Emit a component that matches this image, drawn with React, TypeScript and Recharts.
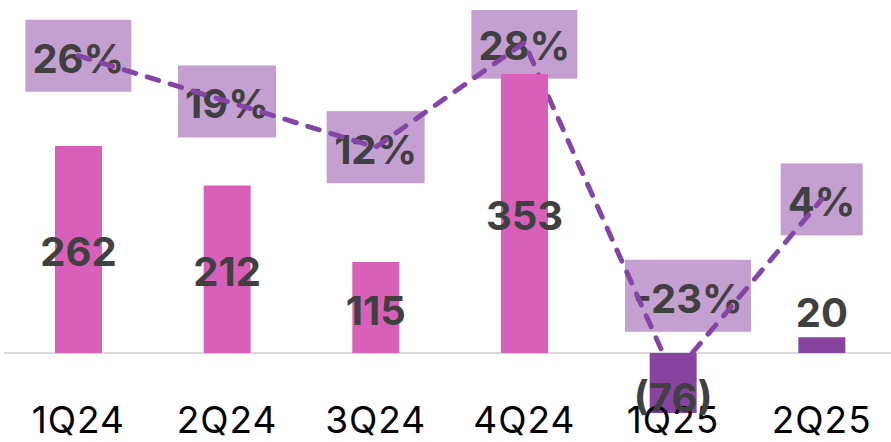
import { Bar, Cell, ComposedChart, LabelList, Line, ReferenceLine, XAxis, YAxis } from "recharts";

const quarters = ["1Q24", "2Q24", "3Q24", "4Q24", "1Q25", "2Q25"];
const netIncome = [262, 212, 115, 353, -76, 20];
const marginPct = [26, 19, 12, 28, -23, 4];

const data = quarters.map((q, i) => ({ name: q, value: netIncome[i], pct: marginPct[i] }));

const PINK = "#D960B9";
const PURPLE = "#8644A0";
const LINE = "#8446A6";
const BOX = "#C3A0D0";
const TEXT = "#404040";
const FONT = "Inter, 'Noto Sans', sans-serif";

// rough glyph widths at 40px bold, used to size the label boxes
const glyphW = (ch: string) => (ch === "%" ? 38 : ch === "1" ? 16 : ch === "-" ? 20 : 24);

function QuarterTick(props: any) {
  const { x, y, payload } = props;
  return (
    <text x={x} y={y} dy={12} textAnchor="middle" fill="#000" fontSize={37} letterSpacing={1} fontFamily={FONT}>
      {payload.value}
    </text>
  );
}

function BarValue(props: any) {
  const { x, y, width, height, value } = props;
  const top = Math.min(y, y + height);
  const h = Math.abs(height);
  const cx = x + width / 2;
  let cy = top + h / 2 + 3;
  let label = String(value);
  if (value < 0) {
    label = `(${-value})`;
    cy = top + h / 2 + 15;
  } else if (h < 40) {
    cy = top - 24;
  }
  return (
    <text x={cx} y={cy} dy="0.35em" textAnchor="middle" fill={TEXT} fontSize={40} fontWeight={700} fontFamily={FONT}>
      {label}
    </text>
  );
}

// label box + text, drawn as the dot of an invisible line so the dashed line can sit on top
function PctBox(props: any) {
  const { cx: px, cy: py, payload } = props;
  if (px == null || py == null) return <g />;
  const value = payload.pct;
  const label = `${value}%`;
  const w = label.split("").reduce((s: number, c: string) => s + glyphW(c), 0) + 20;
  let cx = px;
  let cy = py;
  if (value < 0) {
    cx = px + 15;
    cy = py - 80;
  }
  return (
    <g key={payload.name}>
      <rect x={cx - w / 2} y={cy - 36} width={w} height={72} fill={BOX} />
      <text x={cx} y={cy + 3} dy="0.35em" textAnchor="middle" fill={TEXT} fontSize={40} fontWeight={700} fontFamily={FONT}>
        {label}
      </text>
    </g>
  );
}

export default function App() {
  return (
    <div style={{ position: "absolute", left: 0, top: 0, width: 891, height: 442, overflow: "hidden", background: "#fff" }}>
      <ComposedChart width={896} height={442} data={data} margin={{ top: 10, right: 0, left: 4, bottom: 0 }}>
        <XAxis dataKey="name" axisLine={false} tickLine={false} height={29} interval={0} tick={<QuarterTick />} />
        <YAxis yAxisId="left" hide type="number" domain={[-76, 434]} allowDataOverflow />
        <YAxis yAxisId="right" orientation="right" hide type="number" domain={[-28.7, 33]} allowDataOverflow />
        <ReferenceLine yAxisId="left" y={0} stroke="#D9D9D9" strokeWidth={2} />
        <Line
          yAxisId="right"
          dataKey="pct"
          stroke="none"
          dot={<PctBox />}
          activeDot={false}
          isAnimationActive={false}
        />
        <Line
          yAxisId="right"
          dataKey="pct"
          type="linear"
          stroke={LINE}
          strokeWidth={5}
          strokeDasharray="12 12"
          strokeLinecap="round"
          dot={false}
          activeDot={false}
          isAnimationActive={false}
          {...({ zIndex: 1000 } as any)}
        />
        <Bar yAxisId="left" dataKey="value" barSize={47} isAnimationActive={false} {...({ zIndex: 1100 } as any)}>
          {data.map((d) => (
            <Cell key={d.name} fill={d.name.endsWith("25") ? PURPLE : PINK} />
          ))}
          <LabelList dataKey="value" content={<BarValue />} />
        </Bar>
      </ComposedChart>
    </div>
  );
}
